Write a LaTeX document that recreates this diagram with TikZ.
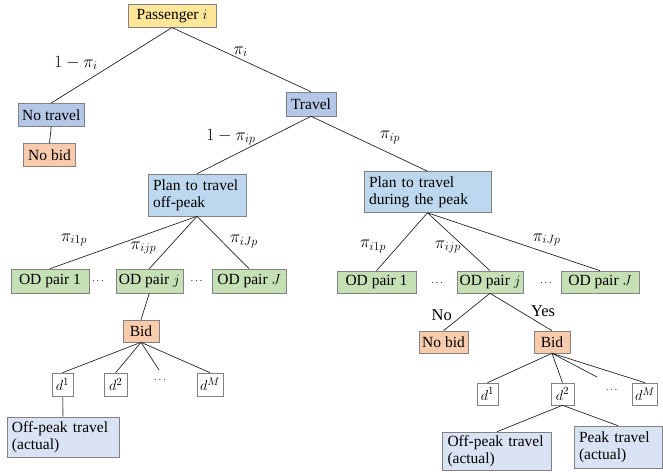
\documentclass[tikz,border=0pt]{standalone}
\usepackage{fontspec}
\setmainfont{Liberation Serif}
\usepackage{tikz}
\usetikzlibrary{positioning}
\definecolor{passyellow}{RGB}{255,230,153}
\definecolor{travelblue}{RGB}{180,199,231}
\definecolor{planblue}{RGB}{189,215,238}
\definecolor{odgreen}{RGB}{197,224,180}
\definecolor{bidsalmon}{RGB}{248,203,173}
\definecolor{actualblue}{RGB}{218,227,243}
\definecolor{boxgray}{RGB}{130,130,130}
\tikzset{
  treebox/.style={draw=boxgray, line width=0.6pt, inner sep=0pt,
    minimum height=23pt, align=center,
    font=\rmfamily\fontsize{15.5}{17}\selectfont},
  passbox/.style={treebox, fill=passyellow},
  travelbox/.style={treebox, fill=travelblue},
  planbox/.style={treebox, fill=planblue, align=left, inner xsep=5pt},
  odbox/.style={treebox, fill=odgreen},
  bidbox/.style={treebox, fill=bidsalmon},
  dbox/.style={treebox, fill=white},
  actualbox/.style={treebox, fill=actualblue, align=left, inner xsep=5pt},
  problabel/.style={font=\rmfamily\fontsize{16.5}{18}\selectfont, inner sep=0pt},
  dotsnode/.style={font=\fontsize{10}{11}\selectfont, inner sep=1pt},
  branch/.style={line width=0.7pt, black!85},
}
\begin{document}
\begin{tikzpicture}[x=1pt, y=-1pt]
  \useasboundingbox (0,0) rectangle (663,473);

  % Passenger and travel decision
  \node[passbox, minimum width=88pt] (pass) at (172,15.8) {Passenger $i$};
  \node[travelbox, minimum width=66pt] (notravel) at (51.3,114.8) {No travel};
  \node[bidbox, minimum width=52pt] (nobidL) at (49.5,154.7) {No bid};
  \node[travelbox, minimum width=50pt, minimum height=24pt] (travel) at (311,104) {Travel};

  % Plans
  \node[planbox, text width=88pt, minimum height=42pt] (offpeak) at (197,195)
    {Plan to travel\\off-peak};
  \node[planbox, text width=117pt, minimum height=41pt] (peak) at (427.5,192)
    {Plan to travel\\during the peak};

  % OD pairs, off-peak side
  \node[odbox, minimum width=78pt, minimum height=24pt] (odL1) at (50,281) {OD pair 1};
  \node[odbox, minimum width=67pt, minimum height=24pt] (odLj) at (149.3,281) {OD pair $j$};
  \node[odbox, minimum width=74pt, minimum height=24pt] (odLJ) at (249,281) {OD pair $J$};
  \node[dotsnode] (dotsL1) at (98,281) {$\cdots$};
  \node[dotsnode] (dotsL2) at (196.5,281) {$\cdots$};

  % OD pairs, peak side
  \node[odbox, minimum width=79pt, minimum height=22pt] (odR1) at (376.5,282) {OD pair 1};
  \node[odbox, minimum width=66pt, minimum height=22pt] (odRj) at (490,282) {OD pair $j$};
  \node[odbox, minimum width=78pt, minimum height=22pt] (odRJ) at (600,282) {OD pair $J$};
  \node[dotsnode] (dotsR1) at (437,283) {$\cdots$};
  \node[dotsnode] (dotsR2) at (546,283) {$\cdots$};

  % Bids
  \node[bidbox, minimum width=36pt, minimum height=22pt] (bidL) at (141,331) {Bid};
  \node[bidbox, minimum width=49pt, minimum height=22pt] (nobidR) at (443.5,342) {No bid};
  \node[bidbox, minimum width=36pt, minimum height=22pt] (bidR) at (552,342) {Bid};

  % Bid levels
  \node[dbox, minimum width=21pt] (dL1) at (62.5,384.5) {$d^1$};
  \node[dbox, minimum width=23pt] (dL2) at (115.7,384.5) {$d^2$};
  \node[dotsnode] (dotsLd) at (160,380) {$\cdots$};
  \node[dbox, minimum width=26pt] (dLM) at (210,384.5) {$d^M$};
  \node[dbox, minimum width=21pt, minimum height=22pt] (dR1) at (487.5,394) {$d^1$};
  \node[dbox, minimum width=23pt, minimum height=22pt] (dR2) at (562.5,394) {$d^2$};
  \node[dotsnode] (dotsRd) at (611.7,390) {$\cdots$};
  \node[dbox, minimum width=25pt, minimum height=22pt] (dRM) at (645,394) {$d^M$};
  \coordinate (stubL) at (159,370);
  \coordinate (stubR) at (597,377);

  % Actual travel
  \node[actualbox, text width=102pt, minimum height=40pt] (actL) at (63,437)
    {Off-peak travel\\(actual)};
  \node[actualbox, text width=99pt, minimum height=38pt] (actR1) at (497,451)
    {Off-peak travel\\(actual)};
  \node[actualbox, text width=78pt, minimum height=42pt] (actR2) at (618,447)
    {Peak travel\\(actual)};

  % Branches
  \foreach \a/\b in {pass/notravel, pass/travel, notravel/nobidL,
      travel/offpeak, travel/peak,
      offpeak/odL1, offpeak/odLj, offpeak/odLJ, odLj/bidL,
      bidL/dL1, bidL/dL2, bidL/dLM,
      peak/odR1, peak/odRj, peak/odRJ, odRj/nobidR, odRj/bidR,
      bidR/dR1, bidR/dR2, bidR/dRM, dR2/actR1, dR2/actR2} {
    \draw[branch] (\a.south) -- (\b.north);
  }
  \draw[branch] (bidL.south) -- (stubL);
  \draw[branch] (bidR.south) -- (stubR);
  \draw[line width=1.4pt, gray!80] (dL1.south) -- (actL.north);

  % Probabilities
  \node[problabel] (pNo) at (76,63) {$1-\pi_i$};
  \node[problabel] (pYes) at (240.7,51.7) {$\pi_i$};
  \node[problabel] (pOff) at (231,137) {$1-\pi_{ip}$};
  \node[problabel] (pPeak) at (390,137.3) {$\pi_{ip}$};
  \node[problabel] (pL1) at (74,240) {$\pi_{i1p}$};
  \node[problabel] (pLj) at (143.5,248) {$\pi_{ijp}$};
  \node[problabel] (pLJ) at (244,241.7) {$\pi_{iJp}$};
  \node[problabel] (pR1) at (373,246.7) {$\pi_{i1p}$};
  \node[problabel] (pRj) at (448,247) {$\pi_{ijp}$};
  \node[problabel] (pRJ) at (546.7,240) {$\pi_{iJp}$};
  \node[problabel] (lNo) at (441.7,315) {No};
  \node[problabel] (lYes) at (543,310.7) {Yes};
\end{tikzpicture}
\end{document}
